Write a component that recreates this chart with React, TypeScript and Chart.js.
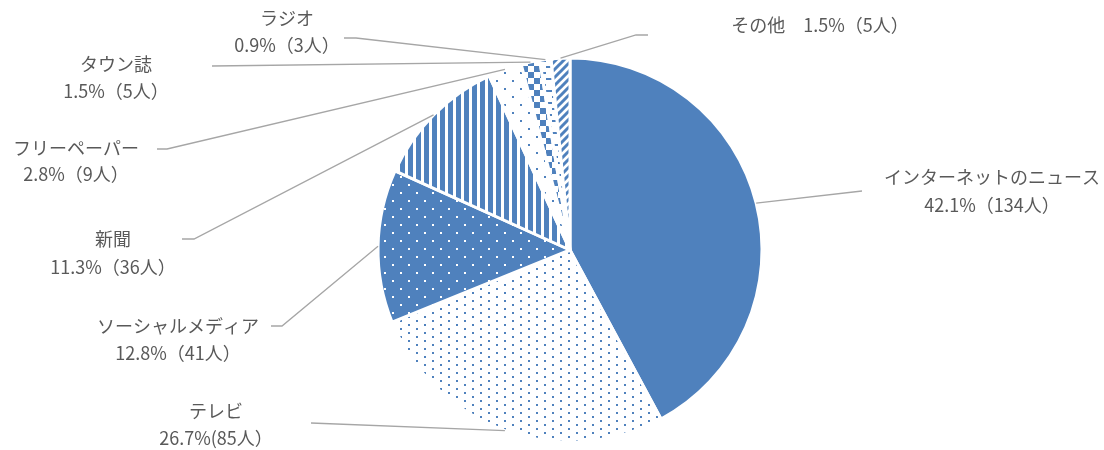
import React, { useEffect, useRef } from "react";
import { Chart, registerables } from "chart.js";

Chart.register(...registerables);

const categories = [
  "インターネットのニュース",
  "テレビ",
  "ソーシャルメディア",
  "新聞",
  "フリーペーパー",
  "タウン誌",
  "ラジオ",
  "その他",
];
const counts = [134, 85, 41, 36, 9, 5, 3, 5];
const valueLabels = [
  "42.1%（134人）",
  "26.7%(85人）",
  "12.8%（41人）",
  "11.3%（36人）",
  "2.8%（9人）",
  "1.5%（5人）",
  "0.9%（3人）",
  "1.5%（5人）",
];

const BLUE = "#4F81BD";
const TEXT = "#595959";
const LEADER = "#A6A6A6";
const FONT = '18px "Noto Sans CJK JP", "Noto Sans", sans-serif';

// label layout: name/value centre positions and leader path (from label side toward pie)
type Layout = { x: number; y: number; vy: number; inline?: boolean; path: number[][] };
const labelLayout: Layout[] = [
  { x: 992, y: 177, vy: 205, path: [[862, 191]] },
  { x: 216, y: 411, vy: 438, path: [[311, 423]] },
  { x: 178, y: 326, vy: 353, path: [[271, 326], [282, 326]] },
  { x: 113, y: 239, vy: 267, path: [[182, 239], [194, 239]] },
  { x: 76, y: 148, vy: 174, path: [[157, 149], [167, 149]] },
  { x: 116, y: 64, vy: 91, path: [[212, 66]] },
  { x: 287, y: 18, vy: 45, path: [[344, 38], [356, 38]] },
  { x: 820, y: 25, vy: 25, inline: true, path: [[648, 35], [636, 35]] },
];

function makePattern(
  w: number,
  h: number,
  bg: string,
  draw: (g: CanvasRenderingContext2D) => void
): CanvasPattern | string {
  const c = document.createElement("canvas");
  c.width = w;
  c.height = h;
  const g = c.getContext("2d");
  if (!g) return BLUE;
  g.fillStyle = bg;
  g.fillRect(0, 0, w, h);
  g.fillStyle = BLUE;
  g.strokeStyle = BLUE;
  draw(g);
  return g.createPattern(c, "repeat") || BLUE;
}

function buildFills() {
  const tv = makePattern(16, 8, "#ffffff", (g) => {
    g.fillRect(0, 0, 2, 2);
    g.fillRect(8, 4, 2, 2);
  });
  const social = makePattern(16, 16, BLUE, (g) => {
    g.fillStyle = "#ffffff";
    g.fillRect(0, 0, 2, 2);
    g.fillRect(8, 8, 2, 2);
  });
  const paper = makePattern(8, 8, "#ffffff", (g) => {
    g.fillRect(0, 0, 5, 8);
  });
  const free = makePattern(16, 16, "#ffffff", (g) => {
    g.fillRect(0, 0, 2, 2);
    g.fillRect(8, 8, 2, 2);
  });
  const town = makePattern(12, 12, "#ffffff", (g) => {
    g.fillRect(0, 0, 6, 6);
    g.fillRect(6, 6, 6, 6);
  });
  const radio = makePattern(12, 12, "#ffffff", (g) => {
    g.fillRect(0, 0, 6, 2);
    g.fillRect(6, 6, 6, 2);
  });
  const other = makePattern(8, 8, "#ffffff", (g) => {
    g.lineWidth = 3;
    g.beginPath();
    g.moveTo(-1, 9);
    g.lineTo(9, -1);
    g.moveTo(-5, 5);
    g.lineTo(5, -5);
    g.moveTo(3, 13);
    g.lineTo(13, 3);
    g.stroke();
  });
  return [BLUE, tv, social, paper, free, town, radio, other];
}

const leaderPlugin = {
  id: "leaderLabels",
  afterDatasetsDraw(chart: any) {
    const ctx: CanvasRenderingContext2D = chart.ctx;
    const meta = chart.getDatasetMeta(0);
    ctx.save();
    meta.data.forEach((arc: any, i: number) => {
      const p = arc.getProps(["x", "y", "startAngle", "endAngle", "outerRadius"], true);
      const mid = (p.startAngle + p.endAngle) / 2;
      const px = p.x + Math.cos(mid) * p.outerRadius;
      const py = p.y + Math.sin(mid) * p.outerRadius;
      const lay = labelLayout[i];
      ctx.strokeStyle = LEADER;
      ctx.lineWidth = 1.3;
      ctx.beginPath();
      ctx.moveTo(px, py);
      for (let k = lay.path.length - 1; k >= 0; k--) {
        ctx.lineTo(lay.path[k][0], lay.path[k][1]);
      }
      ctx.stroke();

      ctx.fillStyle = TEXT;
      ctx.font = FONT;
      ctx.textAlign = "center";
      ctx.textBaseline = "middle";
      if (lay.inline) {
        ctx.fillText(categories[i] + "　" + valueLabels[i], lay.x, lay.y);
      } else {
        ctx.fillText(categories[i], lay.x, lay.y);
        ctx.fillText(valueLabels[i], lay.x, lay.vy);
      }
    });
    ctx.restore();
  },
};

export default function App() {
  const ref = useRef<HTMLCanvasElement | null>(null);
  useEffect(() => {
    if (!ref.current) return;
    const fills = buildFills();
    const chart = new Chart(ref.current, {
      type: "pie",
      data: {
        labels: categories,
        datasets: [
          {
            data: counts,
            backgroundColor: fills as any,
            borderColor: "#ffffff",
            borderWidth: 3,
            radius: 192,
          } as any,
        ],
      },
      options: {
        responsive: false,
        animation: false,
        events: [],
        layout: { padding: { left: 378, right: 342, top: 58, bottom: 8 } },
        plugins: {
          legend: { display: false },
          tooltip: { enabled: false },
        },
      },
      plugins: [leaderPlugin],
    });
    return () => chart.destroy();
  }, []);
  return (
    <div style={{ position: "absolute", left: 0, top: 0, width: 1104, height: 450, background: "#fff" }}>
      <canvas ref={ref} width={1104} height={450} style={{ width: 1104, height: 450 }} />
    </div>
  );
}
